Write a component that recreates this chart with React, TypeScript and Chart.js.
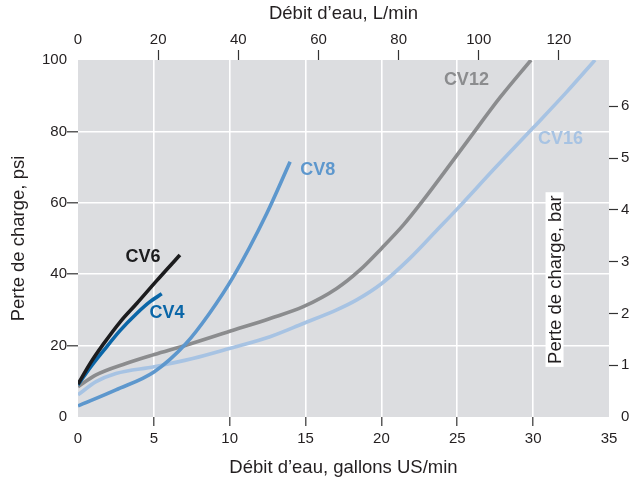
import React, { useEffect, useRef } from "react";
import { Chart, registerables } from "chart.js";

Chart.register(...registerables);

// Axis ticks
const GPM_TICKS = [0, 5, 10, 15, 20, 25, 30, 35];
const LPM_TICKS = [0, 20, 40, 60, 80, 100, 120];
const PSI_TICKS = [0, 20, 40, 60, 80, 100];
const BAR_TICKS = [0, 1, 2, 3, 4, 5, 6];
const LPM_PER_GPM = 3.78541;
const PSI_PER_BAR = 14.5038;

// Series (x: US gpm, y: psi)
const cv6X = [0, 0.8, 1.67, 2.77, 3.87, 5.19, 6.72];
const cv6Y = [9.2, 15.0, 20.4, 26.6, 31.8, 38.2, 45.4];

const cv4X = [0, 0.8, 1.67, 2.77, 3.87, 4.75, 5.52];
const cv4Y = [9.0, 13.8, 18.5, 24.2, 29.0, 32.3, 34.5];

const cv8X = [0, 2.5, 5.03, 7.12, 8.66, 10.24, 12.44, 13.98];
const cv8Y = [3.1, 7.6, 12.7, 20.6, 29.0, 39.3, 57.0, 71.5];

const cv12X = [0, 1.19, 3.16, 5.03, 7.12, 10.0, 12.66, 14.85, 17.05, 18.59, 20.02, 21.45, 22.77, 25.62, 27.82, 29.86];
const cv12Y = [8.5, 11.8, 15.0, 17.5, 20.1, 24.0, 27.6, 30.9, 36.0, 41.2, 47.3, 53.8, 60.8, 77.0, 89.5, 100];

const cv16X = [0, 1.19, 2.5, 5.03, 7.56, 9.98, 12.66, 14.85, 17.05, 18.37, 20.02, 21.89, 23.65, 25.0, 27.5, 30.0, 32.2, 34.08];
const cv16Y = [6.2, 9.9, 12.2, 14.1, 16.4, 19.2, 22.5, 26.2, 30.0, 32.8, 37.4, 44.5, 52.3, 58.3, 69.8, 81.0, 91.0, 100];

const SERIES_NAMES = ["CV6", "CV4", "CV8", "CV12", "CV16"];
const SERIES_COLORS = ["#1c1c1e", "#0a66a8", "#5d97cd", "#8b8c8e", "#a7c3e3"];
const SERIES_X = [cv6X, cv4X, cv8X, cv12X, cv16X];
const SERIES_Y = [cv6Y, cv4Y, cv8Y, cv12Y, cv16Y];
// label anchors in data units (gpm, psi)
const LABEL_X = [4.28, 5.87, 15.8, 25.6, 31.8];
const LABEL_Y = [44.8, 29.1, 69.2, 94.4, 77.9];

const TEXT = "#231f20";
const FONT = "'Liberation Sans', Arial, Helvetica, sans-serif";

export default function App() {
  const ref = useRef<HTMLCanvasElement | null>(null);

  useEffect(() => {
    if (!ref.current) return;

    const datasets = SERIES_NAMES.map((name, i) => ({
      label: name,
      data: SERIES_X[i].map((x, j) => ({ x, y: SERIES_Y[i][j] })),
      borderColor: SERIES_COLORS[i],
      backgroundColor: SERIES_COLORS[i],
      borderWidth: 3.6,
      pointRadius: 0,
      cubicInterpolationMode: "monotone" as const,
      fill: false,
      xAxisID: "x",
      yAxisID: "y",
      borderCapStyle: "butt" as const,
    }));

    const bgPlugin = {
      id: "plotBg",
      beforeDraw(chart: any) {
        const { ctx, chartArea } = chart;
        ctx.save();
        ctx.fillStyle = "#dcdde0";
        ctx.fillRect(chartArea.left, chartArea.top, chartArea.right - chartArea.left, chartArea.bottom - chartArea.top);
        ctx.restore();
      },
    };

    const labelPlugin = {
      id: "seriesLabels",
      afterDatasetsDraw(chart: any) {
        const { ctx } = chart;
        const xs = chart.scales.x;
        const ys = chart.scales.y;
        ctx.save();
        ctx.font = `bold 18px ${FONT}`;
        ctx.textAlign = "center";
        ctx.textBaseline = "middle";
        SERIES_NAMES.forEach((n, i) => {
          ctx.fillStyle = SERIES_COLORS[i];
          ctx.fillText(n, xs.getPixelForValue(LABEL_X[i]), ys.getPixelForValue(LABEL_Y[i]));
        });
        // right axis title, placed inside the plot
        const cx = xs.getPixelForValue(31.41);
        const cy = ys.getPixelForValue(38.5);
        const text = "Perte de charge, bar";
        ctx.font = `18.5px ${FONT}`;
        const w = ctx.measureText(text).width;
        ctx.translate(cx, cy);
        ctx.rotate(-Math.PI / 2);
        ctx.fillStyle = "#ffffff";
        ctx.fillRect(-w / 2 - 3, -9, w + 6, 18);
        ctx.fillStyle = TEXT;
        ctx.fillText(text, 0, 1);
        ctx.restore();
      },
    };

    const isEdge = (arr: number[]) => (ctx: any) => {
      const v = ctx.tick ? ctx.tick.value : undefined;
      return v === arr[0] || v === arr[arr.length - 1];
    };

    const mkTicks = (arr: number[]) => (scale: any) => {
      scale.ticks = arr.map((v) => ({ value: v }));
    };

    const tickFont = { family: FONT, size: 15 };
    const titleFont = { family: FONT, size: 18.5 };
    const CLEAR = "rgba(0,0,0,0)";
    const TICKC = "#333333";

    const chart = new Chart(ref.current, {
      type: "line",
      data: { datasets },
      plugins: [bgPlugin, labelPlugin],
      options: {
        animation: false,
        responsive: false,
        maintainAspectRatio: false,
        layout: { padding: 0 },
        plugins: { legend: { display: false }, tooltip: { enabled: false } },
        scales: {
          x: {
            type: "linear",
            position: "bottom",
            min: 0,
            max: 35,
            afterBuildTicks: mkTicks(GPM_TICKS),
            afterFit: (s: any) => { s.height = 67; },
            border: { display: false },
            grid: {
              color: (c: any) => (isEdge(GPM_TICKS)(c) ? CLEAR : "#ffffff"),
              tickColor: (c: any) => (isEdge(GPM_TICKS)(c) ? CLEAR : TICKC),
              lineWidth: 1.6,
              tickWidth: 1.2,
              tickLength: 9,
            },
            ticks: { color: TEXT, font: tickFont, padding: 4, autoSkip: false, maxRotation: 0 },
            title: { display: true, text: "Débit d’eau, gallons US/min", color: TEXT, font: titleFont, padding: { top: 0, bottom: 5 } },
          },
          x2: {
            type: "linear",
            position: "top",
            min: 0,
            max: 35 * LPM_PER_GPM,
            afterBuildTicks: mkTicks(LPM_TICKS),
            afterFit: (s: any) => { s.height = 60; },
            border: { display: false },
            grid: {
              drawOnChartArea: false,
              tickColor: (c: any) => (c.tick && c.tick.value === 0 ? CLEAR : TICKC),
              tickWidth: 1.2,
              tickLength: 10,
            },
            ticks: { color: TEXT, font: tickFont, padding: 1, autoSkip: false, maxRotation: 0 },
            title: { display: true, text: "Débit d’eau, L/min", color: TEXT, font: titleFont, padding: { top: 3, bottom: 0 } },
          },
          y: {
            type: "linear",
            position: "left",
            min: 0,
            max: 100,
            afterBuildTicks: mkTicks(PSI_TICKS),
            afterFit: (s: any) => { s.width = 78; },
            border: { display: false },
            grid: {
              color: (c: any) => (isEdge(PSI_TICKS)(c) ? CLEAR : "#ffffff"),
              tickColor: (c: any) => (isEdge(PSI_TICKS)(c) ? CLEAR : TICKC),
              lineWidth: 1.6,
              tickWidth: 1.2,
              tickLength: 11,
            },
            ticks: { color: TEXT, font: tickFont, padding: 0, autoSkip: false },
            title: { display: true, text: "Perte de charge, psi", color: TEXT, font: titleFont, padding: { top: 8, bottom: 0 } },
          },
          y2: {
            type: "linear",
            position: "right",
            min: 0,
            max: 100 / PSI_PER_BAR,
            afterBuildTicks: mkTicks(BAR_TICKS),
            afterFit: (s: any) => { s.width = 26; },
            border: { display: false },
            grid: {
              drawOnChartArea: false,
              tickColor: (c: any) => (c.tick && c.tick.value === 0 ? CLEAR : TICKC),
              tickWidth: 1.2,
              tickLength: 9,
            },
            ticks: { color: TEXT, font: tickFont, padding: 3, autoSkip: false },
          },
        },
      } as any,
    });

    return () => chart.destroy();
  }, []);

  return (
    <div style={{ position: "fixed", left: 0, top: 0, width: 635, height: 484, background: "#ffffff" }}>
      <canvas ref={ref} width={635} height={484} style={{ width: 635, height: 484, display: "block" }} />
    </div>
  );
}
